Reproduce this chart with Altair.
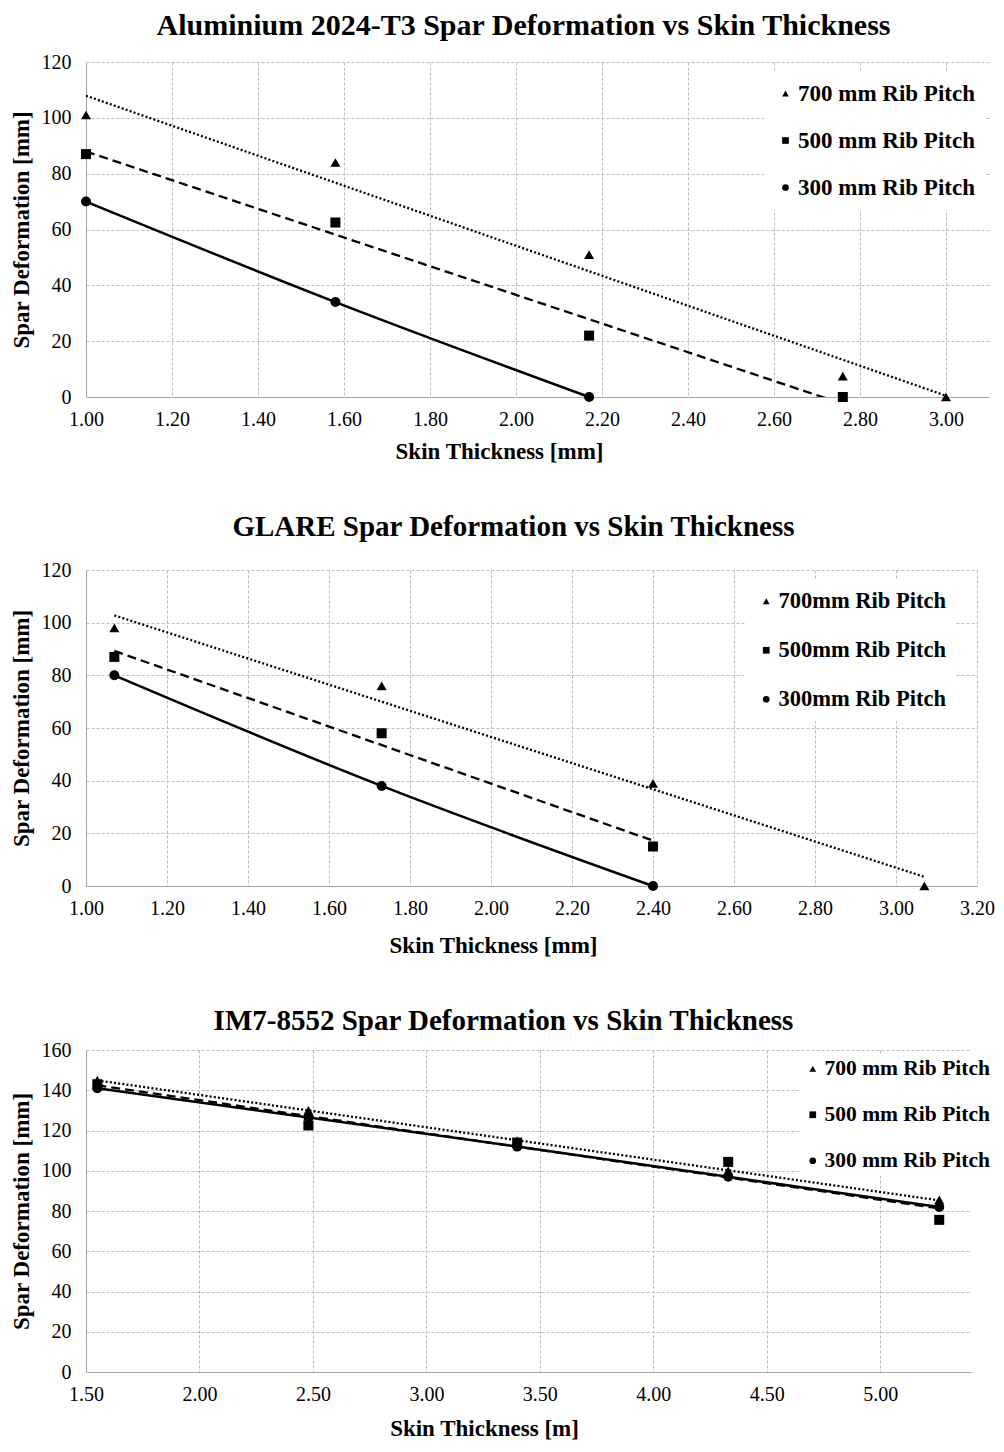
import altair as alt
import pandas as pd

FONT = "Liberation Serif"

# ---------------- Aluminium 2024-T3 ----------------
alu_labels = ["700 mm Rib Pitch", "500 mm Rib Pitch", "300 mm Rib Pitch"]
alu_x_700 = [1.00, 1.58, 2.17, 2.76, 3.00]
alu_y_700 = [101, 84, 51, 7.5, 0]
alu_x_500 = [1.00, 1.58, 2.17, 2.76]
alu_y_500 = [87, 62.5, 22, 0]
alu_x_300 = [1.00, 1.58, 2.17]
alu_y_300 = [70, 34, 0]
alu_x_ticks = [1.0, 1.2, 1.4, 1.6, 1.8, 2.0, 2.2, 2.4, 2.6, 2.8, 3.0]
alu_y_ticks = [0, 20, 40, 60, 80, 100, 120]

# ---------------- GLARE ----------------
glare_labels = ["700mm Rib Pitch", "500mm Rib Pitch", "300mm Rib Pitch"]
glare_x_700 = [1.07, 1.73, 2.40, 3.07]
glare_y_700 = [98, 76, 39, 0]
glare_x_500 = [1.07, 1.73, 2.40]
glare_y_500 = [87, 58, 15]
glare_x_300 = [1.07, 1.73, 2.40]
glare_y_300 = [80, 38, 0]
glare_x_ticks = [1.0, 1.2, 1.4, 1.6, 1.8, 2.0, 2.2, 2.4, 2.6, 2.8, 3.0, 3.2]
glare_y_ticks = [0, 20, 40, 60, 80, 100, 120]

# ---------------- IM7-8552 ----------------
im7_labels = ["700 mm Rib Pitch", "500 mm Rib Pitch", "300 mm Rib Pitch"]
im7_x = [1.55, 2.48, 3.40, 4.33, 5.26]
im7_y_700 = [145, 130, 115, 100, 85.5]
im7_y_500 = [143, 122.5, 114, 104.4, 75.6]
im7_y_300 = [141, 126.5, 112, 97, 82]
im7_x_ticks = [1.5, 2.0, 2.5, 3.0, 3.5, 4.0, 4.5, 5.0]
im7_y_ticks = [0, 20, 40, 60, 80, 100, 120, 140, 160]

GRID = "#bdbdbd"
DOMAIN = "#a6a6a6"


def build_df(labels, xs, ys):
    rows = []
    for lab, xv, yv in zip(labels, xs, ys):
        for a, b in zip(xv, yv):
            rows.append({"x": a, "y": b, "series": lab})
    return pd.DataFrame(rows)


def panel(title, title_size, title_dx, title_offset, labels, xs, ys, x_domain, x_ticks,
          y_domain, y_ticks, width, height, x_title, x_title_x, x_title_y,
          y_title_x, leg_x, leg_y, leg_font, leg_row, leg_pad):
    df = build_df(labels, xs, ys)
    base = alt.Chart(df)

    x_enc = alt.X("x:Q",
                  scale=alt.Scale(domain=x_domain, nice=False, zero=False),
                  axis=alt.Axis(values=x_ticks, format=".2f", title=x_title,
                                labelFont=FONT, labelFontSize=20, labelColor="black",
                                labelPadding=12, labelFlush=False, labelOverlap=False,
                                ticks=False, tickSize=0, domainColor=DOMAIN,
                                grid=True, gridColor=GRID, gridDash=[3, 2],
                                titleFont=FONT, titleFontSize=23, titleFontWeight="bold",
                                titleColor="black", titleX=x_title_x, titleY=x_title_y,
                                titleBaseline="middle"))
    y_enc = alt.Y("y:Q",
                  scale=alt.Scale(domain=y_domain, nice=False),
                  axis=alt.Axis(values=y_ticks, title="Spar Deformation [mm]",
                                labelFont=FONT, labelFontSize=20, labelColor="black",
                                labelPadding=15, labelFlush=False,
                                ticks=False, tickSize=0, domainColor=DOMAIN,
                                grid=True, gridColor=GRID, gridDash=[3, 2],
                                titleFont=FONT, titleFontSize=23, titleFontWeight="bold",
                                titleColor="black", titleX=y_title_x,
                                titleBaseline="middle"))

    reg = (base.transform_filter(alt.FieldOneOfPredicate(field="series", oneOf=labels[:2]))
           .transform_regression("x", "y", groupby=["series"])
           .mark_line(clip=True, color="black", strokeWidth=2.3)
           .encode(x=x_enc, y=y_enc,
                   strokeDash=alt.StrokeDash("series:N",
                                             scale=alt.Scale(domain=labels[:2],
                                                             range=[[2, 2.2], [9, 5]]),
                                             legend=None)))

    solid = (base.transform_filter(alt.FieldEqualPredicate(field="series", equal=labels[2]))
             .mark_line(color="black", strokeWidth=2.5, interpolate="monotone")
             .encode(x=x_enc, y=y_enc))

    pts = (base.mark_point(filled=True, color="black", opacity=1, size=100)
           .encode(x=x_enc, y=y_enc,
                   shape=alt.Shape("series:N",
                                   scale=alt.Scale(domain=labels,
                                                   range=["triangle-up", "square", "circle"]),
                                   legend=alt.Legend(title=None, orient="none",
                                                     legendX=leg_x, legendY=leg_y,
                                                     fillColor="white", padding=leg_pad,
                                                     labelFont=FONT, labelFontSize=leg_font,
                                                     labelFontWeight="bold", labelColor="black",
                                                     labelLimit=0,
                                                     labelOffset=1, rowPadding=leg_row,
                                                     symbolSize=45, symbolFillColor="black",
                                                     symbolStrokeColor="black",
                                                     symbolStrokeWidth=0))))

    return (alt.layer(reg, solid, pts)
            .resolve_scale(shape="shared")
            .properties(width=width, height=height,
                        title=alt.TitleParams(text=title, font=FONT, fontSize=title_size,
                                              fontWeight="bold", color="black",
                                              anchor="middle", dx=title_dx,
                                              offset=title_offset)))


c1 = panel("Aluminium 2024-T3 Spar Deformation vs Skin Thickness", 30, -14, 11,
           alu_labels, [alu_x_700, alu_x_500, alu_x_300], [alu_y_700, alu_y_500, alu_y_300],
           [1.0, 3.1], alu_x_ticks, [0, 120], alu_y_ticks, 903, 335,
           "Skin Thickness [mm]", 413, 54, -65, 678, 10, 23, 23, 10)

c2 = panel("GLARE Spar Deformation vs Skin Thickness", 29, -18, 18,
           glare_labels, [glare_x_700, glare_x_500, glare_x_300],
           [glare_y_700, glare_y_500, glare_y_300],
           [1.0, 3.2], glare_x_ticks, [0, 120], glare_y_ticks, 891, 316,
           "Skin Thickness [mm]", 407, 59, -65, 659, 10, 22.5, 26, 10)

c3 = panel("IM7-8552 Spar Deformation vs Skin Thickness", 29, -25, 4,
           im7_labels, [im7_x, im7_x, im7_x], [im7_y_700, im7_y_500, im7_y_300],
           [1.5, 5.4], im7_x_ticks, [0, 160], im7_y_ticks, 885, 322,
           "Skin Thickness [m]", 398, 56, -65, 713, 5, 21.5, 23, 3)

chart = (alt.vconcat(c1, c2, c3, spacing=50)
         .resolve_scale(x="independent", y="independent",
                        shape="independent", strokeDash="independent")
         .resolve_legend(shape="independent", strokeDash="independent")
         .properties(padding={"left": 2, "top": 3, "right": 0, "bottom": 0},
                     background="white")
         .configure_view(stroke=None))

chart.save("out.html", embed_options={"renderer": "svg", "actions": False})
